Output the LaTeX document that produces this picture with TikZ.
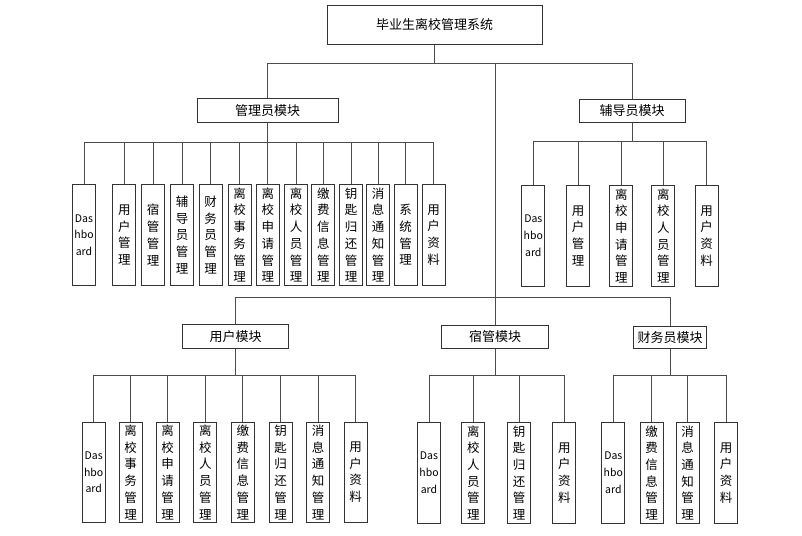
\documentclass[tikz,border=0pt]{standalone}
\usepackage{fontspec}
\newfontfamily\cjk{Noto Sans CJK SC}
\usepackage{tikz}
\usetikzlibrary{positioning,calc}
\newcommand{\dfnt}{\fontsize{10.5}{16}\selectfont}
\newcommand{\dshb}{\dfnt Das\\\dfnt hbo\\\dfnt ard}

\begin{document}
\begin{tikzpicture}[x=1pt,y=-1pt]
                \tikzstyle{box}=[draw=black!80, line width=0.8pt, inner sep=0pt, font=\cjk\fontsize{13}{15}\selectfont]
                \tikzstyle{leaf}=[box, minimum width=23pt, minimum height=101pt, align=center, font=\cjk\fontsize{12.5}{16.7}\selectfont]
                \tikzstyle{wire}=[draw=black!70, line width=0.8pt]

                \useasboundingbox (0,0) rectangle (802,535);

                % system and modules
                \node[box, minimum width=215pt, minimum height=39pt] (sys) at (434.5,24.8) {毕业生离校管理系统};
                \node[box, minimum width=141pt, minimum height=24pt] (adm) at (267.5,110.3) {管理员模块};
                \node[box, minimum width=106pt, minimum height=23.5pt] (cou) at (632,111) {辅导员模块};
                \node[box, minimum width=106.5pt, minimum height=24pt] (usr) at (235.5,336.3) {用户模块};
                \node[box, minimum width=106.5pt, minimum height=23.5pt] (dorm) at (495,336.7) {宿管模块};
                \node[box, minimum width=73.5pt, minimum height=22.5pt] (fin) at (670,337.2) {财务员模块};

                \coordinate (top) at (434.5,63.5);
                \coordinate (low) at (495,297.3);
                \draw[wire] (sys.south) -- (top);
                \draw[wire] (top) -| (adm.north);
                \draw[wire] (top) -| (cou.north);
                \draw[wire] (top) -| (low);
                \draw[wire] (low) -| (usr.north);
                \draw[wire] (low) -- (dorm.north);
                \draw[wire] (low) -| (fin.north);

                % admin
                \foreach \x/\t [count=\i] in {84/\dshb, 124.3/{用\\户\\管\\理}, 153/{宿\\管\\管\\理},
                    182.2/{辅\\导\\员\\管\\理}, 210.5/{财\\务\\员\\管\\理}, 239.7/{离\\校\\事\\务\\管\\理},
                    267.8/{离\\校\\申\\请\\管\\理}, 296/{离\\校\\人\\员\\管\\理}, 323.3/{缴\\费\\信\\息\\管\\理},
                    351/{钥\\匙\\归\\还\\管\\理}, 378/{消\\息\\通\\知\\管\\理}, 405.5/{系\\统\\管\\理}, 433.7/{用\\户\\资\\料}}
                    \node[leaf] (a\i) at (\x,235) {\t};
                \coordinate (abus) at (267.5,142);
                \draw[wire] (adm.south) -- (abus);
                \foreach \i in {1,...,13} \draw[wire] (abus) -| (a\i.north);

                % counsellor
                \foreach \x/\t [count=\i] in {533.3/\dshb, 578/{用\\户\\管\\理}, 621.3/{离\\校\\申\\请\\管\\理},
                    663.3/{离\\校\\人\\员\\管\\理}, 706.7/{用\\户\\资\\料}}
                    \node[leaf] (c\i) at (\x,235.8) {\t};
                \coordinate (cbus) at (632,141.7);
                \draw[wire] (cou.south) -- (cbus);
                \foreach \i in {1,...,5} \draw[wire] (cbus) -| (c\i.north);

                % user
                \foreach \x/\t [count=\i] in {93.7/\dshb, 130.5/{离\\校\\事\\务\\管\\理}, 167.7/{离\\校\\申\\请\\管\\理},
                    205.3/{离\\校\\人\\员\\管\\理}, 242.8/{缴\\费\\信\\息\\管\\理}, 280.5/{钥\\匙\\归\\还\\管\\理},
                    318/{消\\息\\通\\知\\管\\理}, 355.7/{用\\户\\资\\料}}
                    \node[leaf, minimum height=100pt] (u\i) at (\x,472.3) {\t};
                \coordinate (ubus) at (235.5,375);
                \draw[wire] (usr.south) -- (ubus);
                \foreach \i in {1,...,8} \draw[wire] (ubus) -| (u\i.north);

                % dorm
                \foreach \x/\t [count=\i] in {429/\dshb, 473.3/{离\\校\\人\\员\\管\\理}, 519/{钥\\匙\\归\\还\\管\\理},
                    564.3/{用\\户\\资\\料}}
                    \node[leaf] (d\i) at (\x,472.8) {\t};
                \coordinate (dbus) at (495,375.5);
                \draw[wire] (dorm.south) -- (dbus);
                \foreach \i in {1,...,4} \draw[wire] (dbus) -| (d\i.north);

                % finance
                \foreach \x/\t [count=\i] in {613.3/\dshb, 651.7/{缴\\费\\信\\息\\管\\理}, 687.7/{消\\息\\通\\知\\管\\理},
                    726/{用\\户\\资\\料}}
                    \node[leaf] (f\i) at (\x,472.8) {\t};
                \coordinate (fbus) at (670,375);
                \draw[wire] (fin.south) -- (fbus);
                \foreach \i in {1,...,4} \draw[wire] (fbus) -| (f\i.north);
            \end{tikzpicture}
\end{document}
